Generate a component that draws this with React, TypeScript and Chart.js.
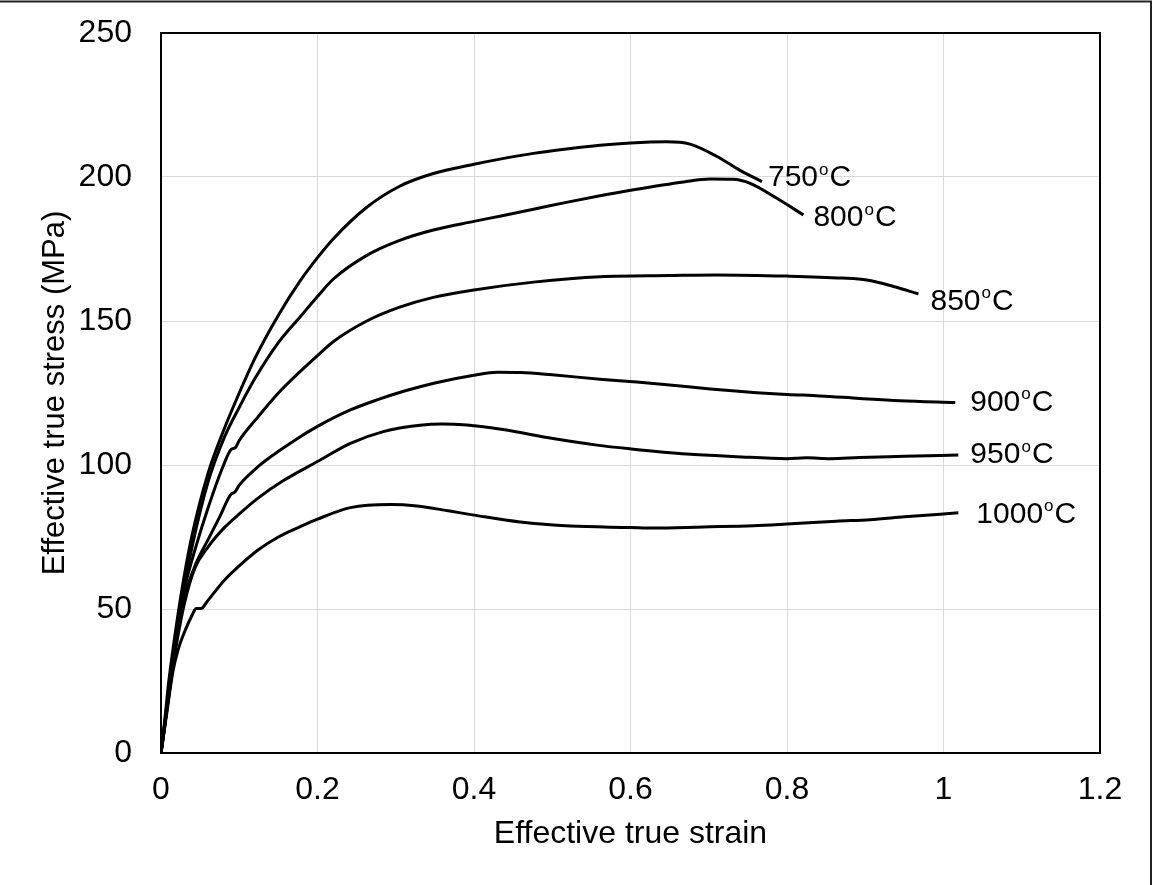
import React, { useEffect, useRef } from "react";
import { Chart, registerables } from "chart.js";

Chart.register(...registerables);

// ---- data (effective true strain / effective true stress, MPa) ----
const temperatures = ["750", "800", "850", "900", "950", "1000"];

const strain750 = [0, 0.005, 0.01, 0.02, 0.03, 0.04, 0.06, 0.08, 0.1, 0.12, 0.15, 0.178, 0.2, 0.22, 0.263, 0.305, 0.348, 0.4, 0.433, 0.476, 0.518, 0.561, 0.6, 0.646, 0.676, 0.71, 0.74, 0.768];
const stress750 = [0, 12, 25, 45, 62, 76, 97, 112, 125, 137, 152, 164, 172, 178.5, 189.5, 196.8, 201.2, 204.4, 206.2, 208.2, 209.7, 211, 211.8, 212.2, 211.4, 207.2, 202.3, 198.4];

const strain800 = [0, 0.005, 0.01, 0.02, 0.03, 0.04, 0.06, 0.08, 0.1, 0.12, 0.15, 0.178, 0.2, 0.22, 0.263, 0.305, 0.348, 0.4, 0.433, 0.476, 0.518, 0.561, 0.604, 0.668, 0.702, 0.731, 0.753, 0.787, 0.821];
const stress800 = [0, 10, 22, 42, 58, 72, 94, 109, 120, 130, 142.5, 151.5, 158.5, 164.5, 172.8, 178, 181.6, 184.6, 186.4, 188.8, 191.2, 193.5, 195.6, 198.3, 199.3, 199.2, 197.8, 192.6, 186.8];

const strain850 = [0, 0.01, 0.02, 0.03, 0.045, 0.06, 0.08, 0.09, 0.095, 0.1, 0.124, 0.15, 0.178, 0.2, 0.22, 0.263, 0.305, 0.348, 0.4, 0.476, 0.561, 0.65, 0.71, 0.8, 0.87, 0.902, 0.936, 0.968];
const stress850 = [0, 22, 42, 57, 72, 85, 100, 105.5, 106, 108.5, 116.7, 125, 132.5, 138, 142.8, 150, 154.8, 158.2, 160.8, 163.5, 165.4, 165.8, 166, 165.6, 164.9, 164.2, 162, 159.4];

const strain900 = [0, 0.01, 0.02, 0.03, 0.045, 0.06, 0.075, 0.09, 0.094, 0.1, 0.124, 0.135, 0.178, 0.2, 0.242, 0.276, 0.31, 0.35, 0.4, 0.43, 0.46, 0.5, 0.561, 0.608, 0.65, 0.702, 0.757, 0.8, 0.842, 0.893, 0.944, 1.015];
const stress900 = [0, 20, 40, 54, 66, 74, 82, 90, 90.5, 93, 99.4, 101.8, 109.8, 113.4, 119.1, 122.6, 125.6, 128.5, 131.2, 132.2, 132.1, 131.3, 129.8, 128.8, 127.8, 126.4, 125.2, 124.5, 124, 123.1, 122.3, 121.7];

const strain950 = [0, 0.01, 0.02, 0.03, 0.043, 0.06, 0.08, 0.1, 0.124, 0.156, 0.2, 0.242, 0.284, 0.331, 0.36, 0.386, 0.4, 0.437, 0.501, 0.557, 0.6, 0.672, 0.735, 0.8, 0.825, 0.855, 0.893, 0.95, 1.019];
const stress950 = [0, 20, 38, 52, 64, 71.5, 78, 83, 88.5, 94.5, 101.2, 107.5, 111.6, 113.8, 114.2, 114, 113.6, 112.3, 109.2, 106.9, 105.6, 103.8, 102.9, 102.2, 102.5, 102.2, 102.6, 103, 103.5];

const strain1000 = [0, 0.008, 0.015, 0.022, 0.03, 0.04, 0.045, 0.051, 0.06, 0.081, 0.1, 0.124, 0.15, 0.178, 0.2, 0.242, 0.293, 0.327, 0.369, 0.4, 0.459, 0.523, 0.6, 0.629, 0.693, 0.757, 0.8, 0.863, 0.906, 0.95, 1.019];
const stress1000 = [0, 15, 28, 36, 42, 48, 50.2, 50.2, 53, 60, 65, 70.5, 75, 78.6, 81.2, 85.2, 86.3, 85.8, 84, 82.6, 80.2, 78.8, 78.3, 78.1, 78.5, 78.9, 79.5, 80.5, 81, 82, 83.4];

const strainSeries = [strain750, strain800, strain850, strain900, strain950, strain1000];
const stressSeries = [stress750, stress800, stress850, stress900, stress950, stress1000];

const xTickStep = 0.2;
const yTickStep = 50;

// label offsets (px) from each curve's end point
const labelOffsets: [number, number][] = [
  [6, -3.5],
  [10, 3],
  [12, 7.5],
  [15, 0],
  [12, 0],
  [18, 2],
];

const FONT = "'Liberation Sans', Arial, sans-serif";

const curveLabels = {
  id: "curveLabels",
  afterDatasetsDraw(chart: any) {
    const ctx = chart.ctx;
    ctx.save();
    ctx.fillStyle = "#000";
    ctx.textBaseline = "middle";
    ctx.textAlign = "left";
    chart.data.datasets.forEach((ds: any, i: number) => {
      const meta = chart.getDatasetMeta(i);
      const pt = meta.data[meta.data.length - 1];
      const [dx, dy] = labelOffsets[i];
      let x = pt.x + dx;
      const y = pt.y + dy;
      ctx.font = `30px ${FONT}`;
      ctx.fillText(temperatures[i], x, y);
      x += ctx.measureText(temperatures[i]).width + 1;
      ctx.font = `17px ${FONT}`;
      ctx.fillText("o", x, y - 8);
      x += ctx.measureText("o").width + 1;
      ctx.font = `30px ${FONT}`;
      ctx.fillText("C", x, y);
    });
    ctx.restore();
  },
};

const frames = {
  id: "frames",
  afterDraw(chart: any) {
    const ctx = chart.ctx;
    const a = chart.chartArea;
    ctx.save();
    ctx.strokeStyle = "#000";
    ctx.lineWidth = 2;
    ctx.strokeRect(a.left, a.top, a.right - a.left, a.bottom - a.top);
    ctx.strokeStyle = "#222";
    ctx.beginPath();
    ctx.moveTo(0, 1.5);
    ctx.lineTo(1151, 1.5);
    ctx.lineTo(1151, chart.height);
    ctx.stroke();
    ctx.restore();
  },
};

export default function App() {
  const ref = useRef<HTMLCanvasElement | null>(null);

  useEffect(() => {
    if (!ref.current) return;
    const datasets = strainSeries.map((xs, i) => ({
      label: temperatures[i] + "°C",
      data: xs.map((x, j) => ({ x, y: stressSeries[i][j] })),
      borderColor: "#000",
      backgroundColor: "#000",
      borderWidth: 3,
      pointRadius: 0,
      fill: false,
      cubicInterpolationMode: "monotone" as const,
    }));
    const chart = new Chart(ref.current, {
      type: "line",
      data: { datasets },
      options: {
        animation: false,
        responsive: false,
        maintainAspectRatio: false,
        layout: { padding: { left: 0, right: 54, top: 33, bottom: 0 } },
        plugins: { legend: { display: false }, tooltip: { enabled: false } },
        scales: {
          x: {
            type: "linear",
            min: 0,
            max: 1.2,
            ticks: {
              stepSize: xTickStep,
              padding: 18,
              color: "#000",
              font: { family: FONT, size: 32 },
              callback: (v: any) => String(Number(Number(v).toFixed(1))),
            },
            grid: { color: "#d9d9d9", lineWidth: 1, drawTicks: false },
            border: { display: false },
            title: {
              display: true,
              text: "Effective true strain",
              color: "#000",
              font: { family: FONT, size: 32 },
              padding: { top: 0, bottom: 32 },
            },
            afterFit(scale: any) {
              scale.height = 132;
              scale.paddingLeft = 0;
              scale.paddingRight = 0;
            },
          },
          y: {
            type: "linear",
            min: 0,
            max: 250,
            ticks: {
              stepSize: yTickStep,
              padding: 29,
              color: "#000",
              font: { family: FONT, size: 32 },
            },
            grid: { color: "#d9d9d9", lineWidth: 1, drawTicks: false },
            border: { display: false },
            title: {
              display: true,
              text: "Effective true stress (MPa)",
              color: "#000",
              font: { family: FONT, size: 31 },
              padding: { top: 37, bottom: 0 },
            },
            afterFit(scale: any) {
              scale.width = 161;
              scale.paddingTop = 0;
              scale.paddingBottom = 0;
            },
          },
        },
      },
      plugins: [curveLabels, frames],
    });
    return () => chart.destroy();
  }, []);

  return (
    <div style={{ position: "absolute", left: 0, top: 0, width: 1154, height: 885, background: "#fff" }}>
      <canvas ref={ref} width={1154} height={885} style={{ display: "block", width: 1154, height: 885 }} />
    </div>
  );
}
